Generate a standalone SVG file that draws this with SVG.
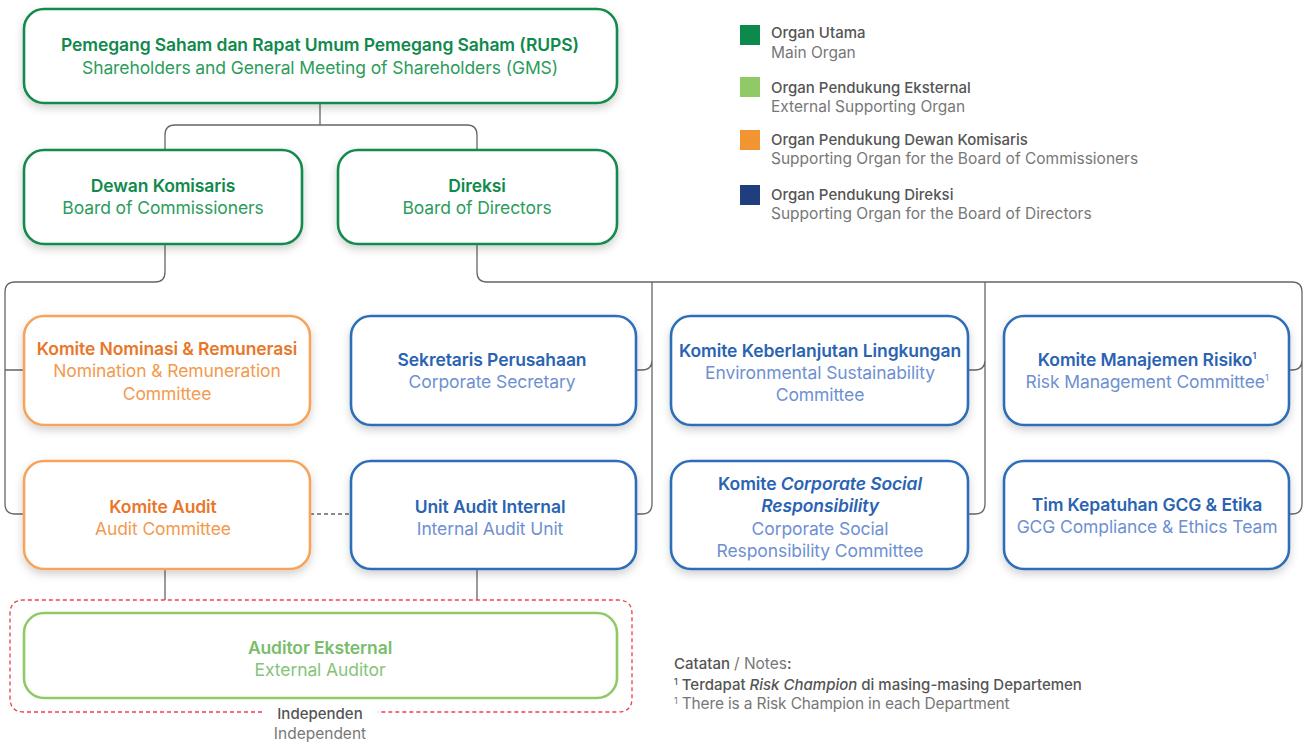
<svg xmlns="http://www.w3.org/2000/svg" width="1303" height="742" viewBox="0 0 1303 742">
  <defs>
    <filter id="shadow" x="-10%" y="-20%" width="120%" height="150%">
      <feDropShadow dx="0" dy="4" stdDeviation="4" flood-color="#000" flood-opacity="0.18"/>
    </filter>
  </defs>
  <style>
    text { font-family: Inter, "Noto Sans", "DejaVu Sans", sans-serif; text-anchor: middle; }
    .box { fill: #fff; stroke-width: 2.6; filter: url(#shadow); }
    .g { stroke: #138a4e; }
    .o { stroke: #f7a35c; }
    .b { stroke: #2f6db8; }
    .lg { stroke: #8fca66; fill: #fff; stroke-width: 2.6; }
    .t1 { font-size: 17.5px; font-weight: 600; letter-spacing: -0.1px; }
    .t2 { font-size: 17.5px; font-weight: 400; letter-spacing: -0.1px; }
    .g1 { fill: #0f8a4c; } .g2 { fill: #2c9c5c; }
    .o1 { fill: #e8772a; } .o2 { fill: #f39a4e; }
    .b1 { fill: #2a63b2; } .b2 { fill: #6e90d2; }
    .l1 { fill: #79bd6b; } .l2 { fill: #86c47a; }
    .conn { fill: none; stroke: #666; stroke-width: 1.3; }
    .leg { text-anchor: start; }
    .lb { font-size: 15px; font-weight: 500; fill: #555; }
    .lr { font-size: 15.5px; font-weight: 400; fill: #777; }
    .sup { font-size: 9px; }
  </style>

  <!-- connectors -->
  <g id="connectors">
    <path class="conn" d="M320,103 V125 M165,150 V135 Q165,125 175,125 H467 Q477,125 477,135 V150"/>
    <path class="conn" d="M165,244 V272 Q165,282 155,282 H15 Q5,282 5,292 V504 Q5,514 15,514 H24 M5,370 H24"/>
    <path class="conn" d="M477,244 V272 Q477,282 487,282 H1292 Q1302,282 1302,292 V504 Q1302,514 1292,514 H1289 M1302,360 Q1302,370 1292,370 H1289"/>
    <path class="conn" d="M652,282 V504 Q652,514 642,514 H636 M652,360 Q652,370 642,370 H636"/>
    <path class="conn" d="M985,282 V504 Q985,514 975,514 H968 M985,360 Q985,370 975,370 H968"/>
    <path class="conn" d="M310,514 H351" stroke-dasharray="4,3"/>
    <path class="conn" d="M165,569 V600 M477,569 V600"/>
    <path d="M262,712 H24 Q10,712 10,698 V614 Q10,600 24,600 H618 Q632,600 632,614 V698 Q632,712 618,712 H378" fill="none" stroke="#ef3e4f" stroke-width="1.3" stroke-dasharray="4,3"/>
  </g>

  <!-- main organs -->
  <g id="rups">
    <rect class="box g" x="24" y="9" width="593" height="94" rx="20"/>
    <text x="320" y="51" class="t1 g1">Pemegang Saham dan Rapat Umum Pemegang Saham (RUPS)</text>
    <text x="320" y="74" class="t2 g2">Shareholders and General Meeting of Shareholders (GMS)</text>
  </g>
  <g id="dewan-komisaris">
    <rect class="box g" x="24" y="150" width="278" height="94" rx="20"/>
    <text x="163" y="192" class="t1 g1">Dewan Komisaris</text>
    <text x="163" y="214" class="t2 g2">Board of Commissioners</text>
  </g>
  <g id="direksi">
    <rect class="box g" x="338" y="150" width="279" height="94" rx="20"/>
    <text x="477" y="192" class="t1 g1">Direksi</text>
    <text x="477" y="214" class="t2 g2">Board of Directors</text>
  </g>

  <!-- board of commissioners committees -->
  <g id="komite-nominasi">
    <rect class="box o" x="24" y="316" width="286" height="109" rx="20"/>
    <text x="167" y="355" class="t1 o1">Komite Nominasi &amp; Remunerasi</text>
    <text x="167" y="377" class="t2 o2">Nomination &amp; Remuneration</text>
    <text x="167" y="400" class="t2 o2">Committee</text>
  </g>
  <g id="komite-audit">
    <rect class="box o" x="24" y="461" width="286" height="108" rx="20"/>
    <text x="163" y="513" class="t1 o1">Komite Audit</text>
    <text x="163" y="535" class="t2 o2">Audit Committee</text>
  </g>

  <!-- board of directors units -->
  <g id="sekretaris">
    <rect class="box b" x="351" y="316" width="285" height="109" rx="20"/>
    <text x="492" y="366" class="t1 b1">Sekretaris Perusahaan</text>
    <text x="492" y="388" class="t2 b2">Corporate Secretary</text>
  </g>
  <g id="unit-audit-internal">
    <rect class="box b" x="351" y="461" width="285" height="108" rx="20"/>
    <text x="490" y="513" class="t1 b1">Unit Audit Internal</text>
    <text x="490" y="535" class="t2 b2">Internal Audit Unit</text>
  </g>
  <g id="komite-keberlanjutan">
    <rect class="box b" x="671" y="316" width="297" height="109" rx="20"/>
    <text x="820" y="357" class="t1 b1">Komite Keberlanjutan Lingkungan</text>
    <text x="820" y="379" class="t2 b2">Environmental Sustainability</text>
    <text x="820" y="401" class="t2 b2">Committee</text>
  </g>
  <g id="komite-csr">
    <rect class="box b" x="671" y="461" width="297" height="108" rx="20"/>
    <text x="820" y="490" class="t1 b1">Komite <tspan font-style="italic">Corporate Social</tspan></text>
    <text x="820" y="512" class="t1 b1" font-style="italic">Responsibility</text>
    <text x="820" y="535" class="t2 b2">Corporate Social</text>
    <text x="820" y="557" class="t2 b2">Responsibility Committee</text>
  </g>
  <g id="komite-risiko">
    <rect class="box b" x="1004" y="316" width="285" height="109" rx="20"/>
    <text x="1147" y="366" class="t1 b1">Komite Manajemen Risiko<tspan class="sup" dy="-7">1</tspan></text>
    <text x="1147" y="388" class="t2 b2">Risk Management Committee<tspan class="sup" dy="-7">1</tspan></text>
  </g>
  <g id="tim-kepatuhan">
    <rect class="box b" x="1004" y="461" width="285" height="108" rx="20"/>
    <text x="1147" y="511" class="t1 b1">Tim Kepatuhan GCG &amp; Etika</text>
    <text x="1147" y="533" class="t2 b2">GCG Compliance &amp; Ethics Team</text>
  </g>

  <!-- external supporting organ -->
  <g id="auditor-eksternal">
    <rect class="lg" x="24" y="613" width="593" height="85" rx="20"/>
    <text x="320" y="654" class="t1 l1">Auditor Eksternal</text>
    <text x="320" y="676" class="t2 l2">External Auditor</text>
  </g>
  <g id="independen">
    <text x="320" y="719" class="lb">Independen</text>
    <text x="320" y="739" class="lr" font-size="15px">Independent</text>
  </g>

  <!-- legend -->
  <g id="legend">
    <rect x="740" y="25" width="20" height="20" fill="#0b8a4c"/>
    <text x="771" y="38" class="leg lb">Organ Utama</text>
    <text x="771" y="58" class="leg lr">Main Organ</text>
    <rect x="740" y="77" width="20" height="20" fill="#90ca66"/>
    <text x="771" y="93" class="leg lb">Organ Pendukung Eksternal</text>
    <text x="771" y="112" class="leg lr">External Supporting Organ</text>
    <rect x="740" y="130" width="20" height="20" fill="#f39433"/>
    <text x="771" y="145" class="leg lb">Organ Pendukung Dewan Komisaris</text>
    <text x="771" y="164" class="leg lr">Supporting Organ for the Board of Commissioners</text>
    <rect x="740" y="185" width="20" height="20" fill="#203e7d"/>
    <text x="771" y="200" class="leg lb">Organ Pendukung Direksi</text>
    <text x="771" y="219" class="leg lr">Supporting Organ for the Board of Directors</text>
  </g>

  <!-- notes -->
  <g id="notes">
    <text x="674" y="669" class="leg lb">Catatan <tspan class="lr" font-size="15px">/ Notes</tspan>:</text>
    <text x="674" y="690" class="leg lb"><tspan class="sup" dy="-5">1</tspan><tspan dy="5"> Terdapat </tspan><tspan font-style="italic">Risk Champion</tspan> di masing-masing Departemen</text>
    <text x="674" y="709" class="leg lr" font-size="14.6px" letter-spacing="-0.15px"><tspan class="sup" dy="-5">1</tspan><tspan dy="5"> There is a Risk Champion in each Department</tspan></text>
  </g>
</svg>
